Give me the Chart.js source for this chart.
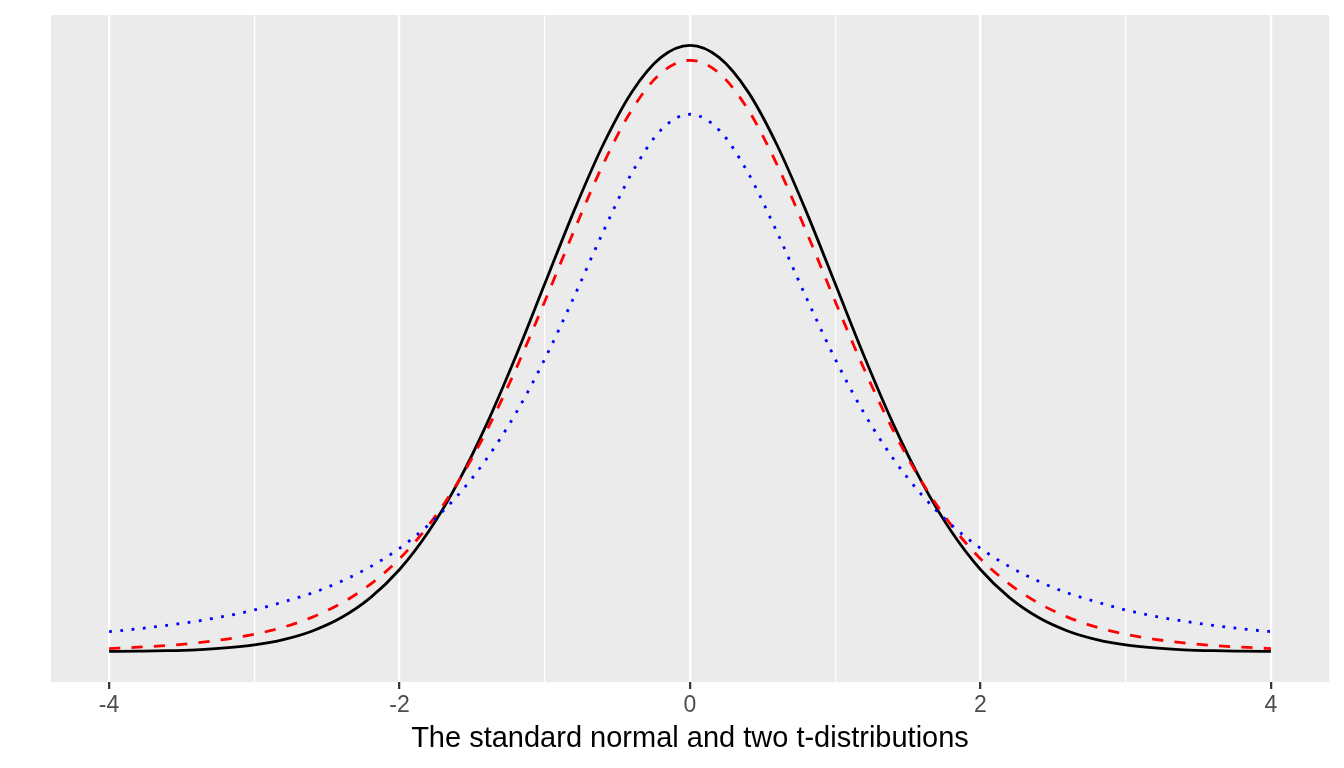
<!DOCTYPE html>
<html>
<head>
<meta charset="utf-8">
<script src="https://cdn.jsdelivr.net/npm/chart.js@4/dist/chart.umd.min.js"></script>
<style>
  html, body { margin: 0; padding: 0; background: #ffffff; }
  #wrap { width: 1344px; height: 768px; }
</style>
</head>
<body>
<div id="wrap"><canvas id="densityChart"></canvas></div>
<script>
const xValues = [-4.0, -3.8, -3.6, -3.4, -3.2, -3.0, -2.8, -2.6, -2.4, -2.2,
                 -2.0, -1.8, -1.6, -1.4, -1.2, -1.0, -0.8, -0.6, -0.4, -0.2,
                  0.0,  0.2,  0.4,  0.6,  0.8,  1.0,  1.2,  1.4,  1.6,  1.8,
                  2.0,  2.2,  2.4,  2.6,  2.8,  3.0,  3.2,  3.4,  3.6,  3.8, 4.0];

// standard normal (black, solid)
const normalValues = [0.0001, 0.0003, 0.0006, 0.0012, 0.0024, 0.0044, 0.0079, 0.0136, 0.0224, 0.0355,
                      0.0540, 0.0790, 0.1109, 0.1497, 0.1942, 0.2420, 0.2897, 0.3332, 0.3683, 0.3910,
                      0.3989, 0.3910, 0.3683, 0.3332, 0.2897, 0.2420, 0.1942, 0.1497, 0.1109, 0.0790,
                      0.0540, 0.0355, 0.0224, 0.0136, 0.0079, 0.0044, 0.0024, 0.0012, 0.0006, 0.0003, 0.0001];

// t-distribution, red dashed
const tRedValues = [0.0020, 0.0029, 0.0040, 0.0057, 0.0081, 0.0114, 0.0161, 0.0227, 0.0319, 0.0444,
                    0.0611, 0.0831, 0.1111, 0.1454, 0.1857, 0.2304, 0.2766, 0.3203, 0.3566, 0.3807,
                    0.3891, 0.3807, 0.3566, 0.3203, 0.2766, 0.2304, 0.1857, 0.1454, 0.1111, 0.0831,
                    0.0611, 0.0444, 0.0319, 0.0227, 0.0161, 0.0114, 0.0081, 0.0057, 0.0040, 0.0029, 0.0020];

// t-distribution, blue dotted
const tBlueValues = [0.0131, 0.0150, 0.0173, 0.0200, 0.0233, 0.0274, 0.0327, 0.0386, 0.0463, 0.0559,
                     0.0680, 0.0834, 0.1027, 0.1269, 0.1567, 0.1925, 0.2331, 0.2758, 0.3150, 0.3432,
                     0.3536, 0.3432, 0.3150, 0.2758, 0.2331, 0.1925, 0.1567, 0.1269, 0.1027, 0.0834,
                     0.0680, 0.0559, 0.0463, 0.0386, 0.0327, 0.0274, 0.0233, 0.0200, 0.0173, 0.0150, 0.0131];

const xLabelTicks = [-4, -2, 0, 2, 4];
const xTitle = 'The standard normal and two t-distributions';

const toPoints = ys => xValues.map((x, i) => ({ x: x, y: ys[i] }));
const isMajor = v => xLabelTicks.includes(v);

// grey panel behind the grid
const panelBackground = {
    id: 'panelBackground',
    beforeDraw(chart) {
        const { ctx, chartArea } = chart;
        ctx.save();
        ctx.fillStyle = '#EBEBEB';
        ctx.fillRect(chartArea.left, chartArea.top, chartArea.right - chartArea.left, chartArea.bottom - chartArea.top);
        ctx.restore();
    }
};

const ctx = document.getElementById('densityChart').getContext('2d');
const densityChart = new Chart(ctx, {
    type: 'line',
    data: {
        datasets: [
            {
                label: 't blue',
                data: toPoints(tBlueValues),
                borderColor: '#0000FF',
                borderWidth: 2.8,
                borderDash: [2.8, 8.5],
                borderCapStyle: 'butt',
                pointRadius: 0,
                fill: false,
                cubicInterpolationMode: 'monotone'
            },
            {
                label: 't red',
                data: toPoints(tRedValues),
                borderColor: '#FF0000',
                borderWidth: 2.8,
                borderDash: [11.2, 11.2],
                borderCapStyle: 'butt',
                pointRadius: 0,
                fill: false,
                cubicInterpolationMode: 'monotone'
            },
            {
                label: 'normal',
                data: toPoints(normalValues),
                borderColor: '#000000',
                borderWidth: 2.8,
                pointRadius: 0,
                fill: false,
                cubicInterpolationMode: 'monotone'
            }
        ]
    },
    options: {
        responsive: true,
        maintainAspectRatio: false,
        animation: false,
        layout: { padding: { left: 51, right: 15, top: 15, bottom: 0 } },
        plugins: {
            legend: { display: false },
            tooltip: { enabled: false }
        },
        scales: {
            x: {
                type: 'linear',
                min: -4.4,
                max: 4.4,
                afterFit: scale => { scale.height = 86; },
                border: { display: false },
                grid: {
                    color: '#FFFFFF',
                    lineWidth: c => isMajor(c.tick.value) ? 2.3 : 1.2,
                    tickColor: c => isMajor(c.tick.value) ? '#333333' : 'rgba(0,0,0,0)',
                    tickWidth: 2.2,
                    tickLength: 7
                },
                ticks: {
                    stepSize: 1,
                    includeBounds: false,
                    autoSkip: false,
                    maxRotation: 0,
                    padding: 3,
                    color: '#4D4D4D',
                    font: { family: '"Liberation Sans", Arial, sans-serif', size: 23 },
                    callback: v => isMajor(v) ? String(v) : ''
                },
                title: {
                    display: true,
                    text: xTitle,
                    color: '#000000',
                    padding: { top: 0, bottom: 12 },
                    font: { family: '"Liberation Sans", Arial, sans-serif', size: 29 }
                }
            },
            y: {
                display: false,
                min: -0.02,
                max: 0.4189
            }
        }
    },
    plugins: [panelBackground]
});
</script>
</body>
</html>
